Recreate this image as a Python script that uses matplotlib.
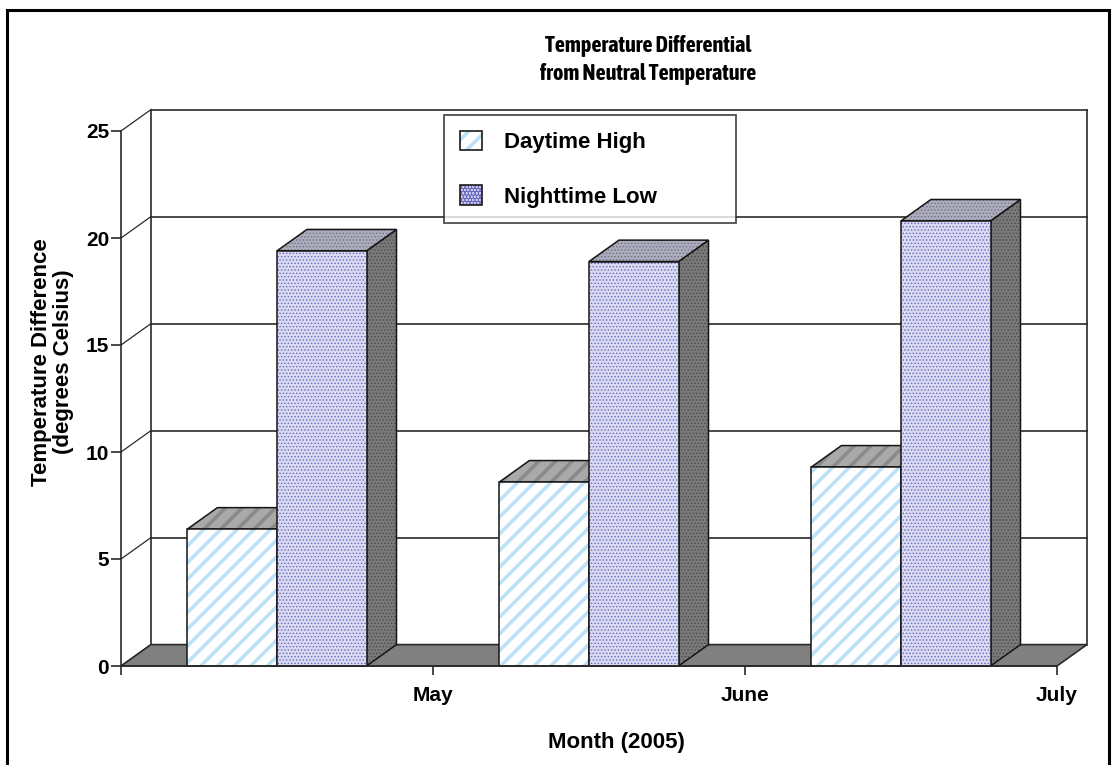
import numpy as np
import matplotlib
matplotlib.use("Agg")
import matplotlib.pyplot as plt
from matplotlib import font_manager
from matplotlib.patches import Rectangle, Polygon
from matplotlib.legend_handler import HandlerTuple

# === Data
months = ["May", "June", "July"]
daytime_high = [6.4, 8.6, 9.3]
nighttime_low = [19.4, 18.9, 20.8]
y_ticks = [0, 5, 10, 15, 20, 25]

# === Style
plt.rcParams['font.family'] = ['Liberation Sans', 'DejaVu Sans']
plt.rcParams['font.weight'] = 'bold'
plt.rcParams['hatch.linewidth'] = 2.6


def is_bold(w):
    if isinstance(w, str):
        return w in ("bold", "heavy", "extra bold", "black", "demibold", "semibold")
    return w >= 600


# narrow bold face for the title, if one is installed
narrow = [f.name for f in font_manager.fontManager.ttflist
          if ("Narrow" in f.name or "Condensed" in f.name) and is_bold(f.weight)]
title_family = narrow[:1] + ['Liberation Sans', 'DejaVu Sans']
title_size = 16 if narrow else 14

DX, DY = 0.096, 1.0      # pseudo-3D depth offset in data units
BAR_W = 0.287
LINE_C = "#2a2a2a"

day_style = dict(face="white", hatch="//", hcol="#bde2f7")
day_top = dict(face="#a9a9a9", hatch="//", hcol="#8a8a8a")
night_style = dict(face="#dadaf3", hatch=".....", hcol="#6868be")
night_top = dict(face="#acacbc", hatch=".....", hcol="#6e6e88")
night_side = dict(face="#7a7a7a", hatch=".....", hcol="#4a4a4a")

fig = plt.figure(figsize=(11.14, 7.65), dpi=100)
ax = fig.add_axes([121 / 1114, 1 - 666 / 765, 936 / 1114, 535 / 765])
ax.set_xlim(0, 3)
ax.set_ylim(0, 25)

z = [3]


def face(verts, st, lw_hatch):
    z[0] += 1
    p = Polygon(verts, closed=True, facecolor=st["face"], edgecolor=st["hcol"],
                hatch=st["hatch"], linewidth=0, zorder=z[0], clip_on=False)
    if hasattr(p, "set_hatch_linewidth"):
        p.set_hatch_linewidth(lw_hatch)
    ax.add_patch(p)
    ax.add_patch(Polygon(verts, closed=True, fill=False, edgecolor="#151515",
                         linewidth=1.1, zorder=z[0], clip_on=False))


def bar3d(x0, h, front, top, side, lw_hatch):
    x1 = x0 + BAR_W
    if side is not None:
        face([(x1, 0), (x1 + DX, DY), (x1 + DX, h + DY), (x1, h)], side, lw_hatch)
    face([(x0, h), (x1, h), (x1 + DX, h + DY), (x0 + DX, h + DY)], top, lw_hatch)
    face([(x0, 0), (x1, 0), (x1, h), (x0, h)], front, lw_hatch)


# === Back wall, side wall and floor
for v in y_ticks[1:]:
    ax.plot([DX, 3 + DX], [v + DY, v + DY], color=LINE_C, lw=1.2, zorder=1, clip_on=False)
for v in y_ticks:
    ax.plot([0, DX], [v, v + DY], color=LINE_C, lw=0.9, zorder=1, clip_on=False)
ax.plot([DX, DX], [DY, 25 + DY], color=LINE_C, lw=1.2, zorder=1, clip_on=False)
ax.plot([3 + DX, 3 + DX], [DY, 25 + DY], color=LINE_C, lw=1.2, zorder=1, clip_on=False)
ax.add_patch(Polygon([(0, 0), (3, 0), (3 + DX, DY), (DX, DY)], closed=True,
                     facecolor="#808080", edgecolor=LINE_C, linewidth=1.2,
                     zorder=2, clip_on=False))

# === Bars
for i in range(len(months)):
    c = i + 0.5
    bar3d(c - BAR_W, daytime_high[i], day_style, day_top, None, 2.6)
    bar3d(c, nighttime_low[i], night_style, night_top, night_side, 0.6)

# === Axes
for s in ["top", "right"]:
    ax.spines[s].set_visible(False)
for s in ["left", "bottom"]:
    ax.spines[s].set_color(LINE_C)
    ax.spines[s].set_linewidth(1.2)
    ax.spines[s].set_zorder(20)
ax.set_yticks(y_ticks)
ax.set_yticklabels([str(t) for t in y_ticks], fontsize=15, fontweight="bold")
ax.set_xticks([0, 1, 2, 3])
ax.set_xticklabels([""] + months, fontsize=15, fontweight="bold")
ax.tick_params(axis="y", length=7, width=1.2, color=LINE_C, pad=1.5)
ax.tick_params(axis="x", length=6.5, width=1.2, color=LINE_C, pad=8)

ax.set_ylabel("Temperature Difference\n(degrees Celsius)", fontsize=16,
              fontweight="bold", linespacing=1.05)
ax.yaxis.set_label_coords(-0.050, 0.568)
ax.set_xlabel("Month (2005)", fontsize=16, fontweight="bold")
ax.xaxis.set_label_coords(0.529, -0.124)

fig.text(648 / 1114, 1 - 60 / 765, "Temperature Differential\nfrom Neutral Temperature",
         ha="center", va="center", fontsize=title_size, fontweight="bold",
         linespacing=1.3, family=title_family)

# === Legend
def handle(st, lw_hatch):
    a = Rectangle((0, 0), 1, 1, facecolor=st["face"], edgecolor=st["hcol"],
                  hatch=st["hatch"], linewidth=0)
    if hasattr(a, "set_hatch_linewidth"):
        a.set_hatch_linewidth(lw_hatch)
    b = Rectangle((0, 0), 1, 1, fill=False, edgecolor="#1a1a1a", linewidth=1.2)
    return (a, b)


leg = ax.legend([handle(day_style, 2.0), handle(night_style, 0.6)],
                ["Daytime High", "Nighttime Low"],
                handler_map={tuple: HandlerTuple(ndivide=1, pad=0)},
                bbox_to_anchor=(444 / 1114, 1 - 220 / 765, 292 / 1114, 105 / 765),
                bbox_transform=fig.transFigure, loc="upper left", mode="expand",
                prop={"size": 16, "weight": "bold"}, frameon=True, fancybox=False,
                handlelength=1.0, handleheight=1.0, handletextpad=1.0,
                labelspacing=1.45, borderpad=0.7, borderaxespad=0)
leg.get_frame().set_edgecolor("#222222")
leg.get_frame().set_linewidth(1.3)
leg.set_zorder(50)

# === Outer frame
fig.patches.append(Rectangle((7 / 1114, -0.01), 1102 / 1114, 1 - 10 / 765 + 0.01,
                             transform=fig.transFigure, fill=False,
                             edgecolor="black", linewidth=2.2))

fig.savefig("out.png", dpi=100)
